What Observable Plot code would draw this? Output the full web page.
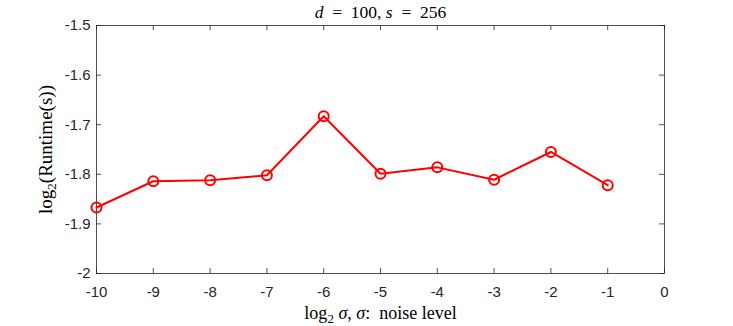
<!DOCTYPE html>
<html>
<head>
<meta charset="utf-8">
<script src="https://cdn.jsdelivr.net/npm/d3@7"></script>
<script src="https://cdn.jsdelivr.net/npm/@observablehq/plot@0.6"></script>
<style>
html,body{margin:0;padding:0;background:#fff;}
</style>
</head>
<body>
<div id="chart"></div>
<script>
// Data
const noiseLog2 = [-10, -9, -8, -7, -6, -5, -4, -3, -2, -1];
const runtimeLog2 = [-1.867, -1.814, -1.812, -1.802, -1.683, -1.799, -1.786, -1.811, -1.755, -1.822];
const xTicks = [-10, -9, -8, -7, -6, -5, -4, -3, -2, -1, 0];
const yTicks = [-2, -1.9, -1.8, -1.7, -1.6, -1.5];
const titleText = "d = 100, s = 256";
const xLabelText = "log2 σ, σ: noise level";
const yLabelText = "log2(Runtime(s))";

const data = noiseLog2.map((x, i) => ({x, y: runtimeLog2[i]}));

const W = 733, H = 326, mt = 25, mb = 53, ml = 96, mr = 69;
const innerW = W - ml - mr, innerH = H - mt - mb;
const axisColor = "#262626";
const tickLen = 5;

const svg = Plot.plot({
  width: W, height: H,
  marginTop: mt, marginBottom: mb, marginLeft: ml, marginRight: mr,
  style: {fontFamily: "'Liberation Sans', Arial, sans-serif", fontSize: "15px", color: axisColor, background: "#fff"},
  x: {domain: [-10, 0]},
  y: {domain: [-2, -1.5]},
  marks: [
    Plot.frame({stroke: axisColor, strokeWidth: 0.8}),
    // inward ticks
    Plot.tickX(xTicks, {x: d => d, insetTop: innerH - tickLen, stroke: axisColor, strokeWidth: 0.8}),
    Plot.tickX(xTicks, {x: d => d, insetBottom: innerH - tickLen, stroke: axisColor, strokeWidth: 0.8}),
    Plot.tickY(yTicks, {y: d => d, insetRight: innerW - tickLen, stroke: axisColor, strokeWidth: 0.8}),
    Plot.tickY(yTicks, {y: d => d, insetLeft: innerW - tickLen, stroke: axisColor, strokeWidth: 0.8}),
    Plot.axisX(xTicks, {tickSize: 0, tickPadding: 13, tickFormat: d => String(d), label: null, fill: axisColor, fontSize: 15}),
    Plot.axisY(yTicks, {tickSize: 0, tickPadding: 6, tickFormat: d => String(d), label: null, fill: axisColor, fontSize: 15}),
    Plot.line(data, {x: "x", y: "y", stroke: "#ff0000", strokeWidth: 2}),
    Plot.dot(data, {x: "x", y: "y", r: 5, stroke: "#ff0000", strokeWidth: 2, fill: "none"}),
    Plot.text([titleText], {frameAnchor: "top", lineAnchor: "middle", textAnchor: "middle", dy: -13, className: "ttl", fontSize: 17.5, fill: "#000"}),
    Plot.text([xLabelText], {frameAnchor: "bottom", lineAnchor: "middle", textAnchor: "middle", dy: 40, className: "xlbl", fontSize: 18, fill: "#000"}),
    Plot.text([yLabelText], {frameAnchor: "left", lineAnchor: "middle", textAnchor: "middle", dx: -51, rotate: -90, className: "ylbl", fontSize: 19, fill: "#000"})
  ]
});

document.getElementById("chart").appendChild(svg);

const serif = "'Liberation Serif', 'Times New Roman', serif";
function rich(cls, parts) {
  const t = d3.select(svg).select("." + cls + " text");
  t.text(null).attr("font-family", serif);
  for (const p of parts) {
    const s = t.append("tspan").text(p.t);
    if (p.i) s.attr("font-style", "italic");
    if (p.sub) s.attr("font-size", 13).attr("dy", 4);
    if (p.up) s.attr("dy", -4);
  }
}
rich("ttl", [{t: "d", i: 1}, {t: "\u2002=\u2002100, "}, {t: "s", i: 1}, {t: "\u2002=\u2002256"}]);
rich("xlbl", [{t: "log"}, {t: "2", sub: 1}, {t: " ", up: 1}, {t: "σ", i: 1}, {t: ", "}, {t: "σ", i: 1}, {t: ":\u2002noise level"}]);
rich("ylbl", [{t: "log"}, {t: "2", sub: 1}, {t: "(Runtime(s))", up: 1}]);
</script>
</body>
</html>
